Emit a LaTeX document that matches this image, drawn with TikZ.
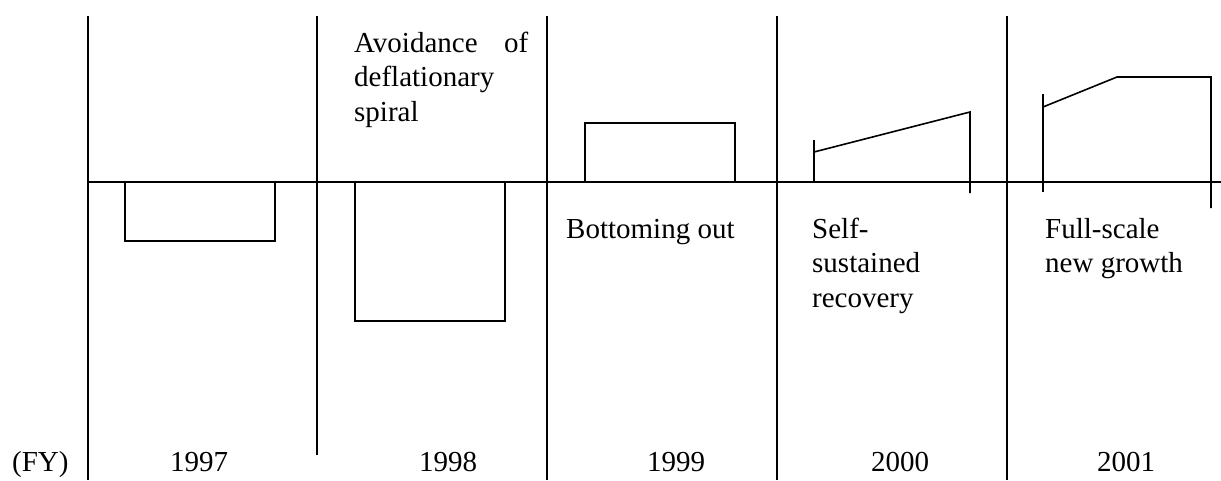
\documentclass[tikz,border=0pt]{standalone}
\usepackage{fontspec}
\setmainfont{Liberation Serif}
\begin{document}
\begin{tikzpicture}[x=1pt,y=-1pt,
  frame/.style={line width=2pt,black},
  bar/.style={line width=1.6pt,black},
  lbl/.style={inner sep=0pt,anchor=base west,align=left,
    font=\fontsize{29}{34.5}\selectfont},
  yr/.style={inner sep=0pt,anchor=base,font=\fontsize{29}{34.5}\selectfont}]
\useasboundingbox (0,0) rectangle (1221,480);
% period separators
\draw[frame] (88,16) -- (88,480);
\draw[frame] (317,16) -- (317,455);
\draw[frame] (547,16) -- (547,480);
\draw[frame] (777,16) -- (777,480);
\draw[frame] (1007,16) -- (1007,480);
% axis
\draw[frame] (88,182) -- (1221,182);
% 1997 and 1998 negative bars
\draw[bar] (125,182) rectangle (275,241);
\draw[bar] (355,182) rectangle (505,321);
% 1999 positive bar
\draw[bar] (585,182) -- (585,123) -- (735,123) -- (735,182);
% 2000 rising
\draw[bar] (814,182) -- (814,140);
\draw[bar] (814,152) -- (970,112) -- (970,193);
% 2001 rising then flat
\draw[bar] (1043,192) -- (1043,94);
\draw[bar] (1043,107) -- (1117,77) -- (1211,77) -- (1211,208);
% labels (base anchor = baseline of the last line)
\node[lbl] (avoid) at (354,121) {\hbox to 174pt{Avoidance\hfill of}\\deflationary\\spiral};
\node[lbl] (bottom) at (566,238) {Bottoming out};
\node[lbl] (self) at (812,307) {Self-\\sustained\\recovery};
\node[lbl] (full) at (1045,272.5) {Full-scale\\new growth};
% year axis
\node[inner sep=0pt,anchor=base west,font=\fontsize{29}{34.5}\selectfont] (fy) at (12,471) {(FY)};
\node[yr] (y97) at (199,471) {1997};
\node[yr] (y98) at (448,471) {1998};
\node[yr] (y99) at (676,471) {1999};
\node[yr] (y00) at (900,471) {2000};
\node[yr] (y01) at (1126,471) {2001};
\end{tikzpicture}
\end{document}
